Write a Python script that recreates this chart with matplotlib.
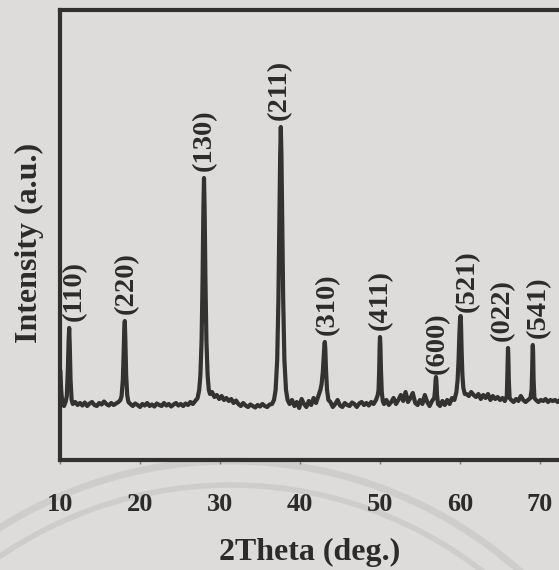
import matplotlib
matplotlib.use('Agg')
import matplotlib.pyplot as plt
from matplotlib.patches import Arc

# XRD trace (2theta in deg, intensity in a.u.)
two_theta = [
    # start + (110)
    10.05, 10.15, 10.3, 10.5, 10.7, 10.85, 10.98, 11.08, 11.15, 11.22, 11.32, 11.45, 11.6,
    11.9, 12.2, 12.5, 12.8, 13.1, 13.4, 13.7, 14.0, 14.3, 14.6, 14.9, 15.2, 15.5, 15.8,
    16.1, 16.4, 16.7, 17.0, 17.3, 17.55,
    # (220)
    17.7, 17.85, 17.95, 18.03, 18.1, 18.17, 18.27, 18.4, 18.55,
    18.8, 19.1, 19.4, 19.7, 20.0, 20.3, 20.6, 20.9, 21.2, 21.5, 21.8, 22.1, 22.4, 22.7,
    23.0, 23.3, 23.6, 23.9, 24.2, 24.5, 24.8, 25.1, 25.4, 25.7, 26.0, 26.3, 26.6, 26.9,
    27.2,
    # (130)
    27.4, 27.55, 27.7, 27.82, 27.92, 28.0, 28.08, 28.18, 28.3, 28.45, 28.6,
    28.75, 29.0, 29.3, 29.6, 29.9, 30.2, 30.5, 30.8, 31.1, 31.4, 31.7, 32.0, 32.3, 32.6,
    32.9, 33.2, 33.5, 33.8, 34.1, 34.4, 34.7, 35.0, 35.3, 35.6, 35.9, 36.2, 36.5, 36.75,
    # (211)
    36.95, 37.15, 37.3, 37.42, 37.52, 37.6, 37.68, 37.78, 37.9, 38.05, 38.25, 38.45,
    38.7, 39.0, 39.3, 39.6, 39.9, 40.2, 40.5, 40.8, 41.1, 41.4, 41.7, 42.0, 42.3, 42.55,
    # (310)
    42.7, 42.85, 42.97, 43.05, 43.1, 43.16, 43.25, 43.38, 43.55,
    43.8, 44.1, 44.4, 44.7, 45.0, 45.3, 45.6, 45.9, 46.2, 46.5, 46.8, 47.1, 47.4, 47.7,
    48.0, 48.3, 48.6, 48.9, 49.2, 49.5, 49.72,
    # (411)
    49.82, 49.9, 49.96, 50.0, 50.05, 50.12, 50.22, 50.35,
    50.5, 50.8, 51.1, 51.4, 51.7, 52.0, 52.3, 52.6, 52.9, 53.2, 53.5, 53.8, 54.1, 54.4,
    54.7, 55.0, 55.3, 55.6, 55.9, 56.2, 56.5, 56.78,
    # (600)
    56.88, 56.95, 57.0, 57.05, 57.13, 57.25,
    57.5, 57.8, 58.1, 58.4, 58.7, 59.0, 59.3, 59.55,
    # (521)
    59.7, 59.82, 59.92, 60.0, 60.07, 60.13, 60.2, 60.3, 60.42, 60.6,
    60.8, 61.1, 61.4, 61.7, 62.0, 62.3, 62.6, 62.9, 63.2, 63.5, 63.8, 64.1, 64.4, 64.7,
    65.0, 65.3, 65.6, 65.85,
    # (022)
    65.92, 65.97, 66.0, 66.04, 66.1, 66.2,
    66.4, 66.7, 67.0, 67.3, 67.6, 67.9, 68.2, 68.5, 68.8, 68.95,
    # (541)
    69.02, 69.07, 69.1, 69.14, 69.2, 69.3,
    69.5, 69.8, 70.1, 70.4, 70.7, 71.0, 71.3, 71.6, 71.9, 72.2, 72.5, 72.8, 73.1,
]
counts = [
    880, 700, 560, 540, 580, 640, 900, 1200, 1320, 1150, 800, 600, 560,
    580, 550, 570, 545, 575, 540, 565, 580, 550, 540, 570, 555, 585, 560,
    545, 570, 550, 565, 580, 600,
    640, 800, 1050, 1300, 1390, 1200, 850, 650, 580,
    560, 540, 565, 550, 530, 560, 545, 570, 540, 555, 535, 565, 550, 540,
    570, 545, 560, 535, 555, 570, 545, 560, 540, 565, 550, 580, 560, 590,
    620,
    700, 850, 1200, 1800, 2500, 2820, 2500, 1800, 1200, 850, 700,
    660, 680, 630, 650, 610, 640, 600, 620, 590, 610, 570, 595, 560, 540,
    570, 545, 530, 555, 540, 525, 550, 535, 560, 540, 530, 555, 560, 600,
    700, 1000, 1600, 2400, 3050, 3330, 3050, 2400, 1600, 1000, 700, 600,
    560, 600, 540, 580, 520, 610, 560, 530, 590, 550, 620, 570, 640, 700,
    760, 880, 1050, 1150, 1180, 1120, 900, 700, 600,
    580, 530, 560, 600, 545, 530, 570, 550, 540, 575, 560, 530, 565, 580,
    550, 570, 545, 580, 560, 600, 650,
    700, 900, 1150, 1230, 1150, 900, 680, 590,
    560, 600, 550, 580, 620, 560, 600, 650, 590, 680, 580, 620, 670, 570,
    550, 600, 560, 650, 580, 540, 590, 620,
    700, 800, 830, 790, 650, 560,
    540, 590, 550, 600, 560, 620, 600, 680,
    800, 1000, 1250, 1400, 1440, 1350, 1100, 850, 720, 660,
    660, 640, 680, 650, 630, 660, 610, 650, 620, 660, 600, 640, 610, 630,
    600, 620, 590, 640,
    850, 1050, 1120, 1050, 800, 620,
    600, 580, 610, 590, 640, 600, 580, 600, 620, 700,
    900, 1100, 1150, 1080, 800, 620,
    600, 580, 600, 590, 610, 580, 600, 590, 600, 580, 600, 590, 600,
]

hkl = ['(110)', '(220)', '(130)', '(211)', '(310)', '(411)', '(600)', '(521)', '(022)', '(541)']
peak_theta = [11.15, 18.1, 28.0, 37.6, 43.1, 50.0, 57.0, 60.1, 66.0, 69.1]
peak_counts = [1320, 1390, 2820, 3330, 1180, 1230, 830, 1440, 1120, 1150]

x_ticks = [10, 20, 30, 40, 50, 60, 70]

# label nudges in points (dx, dy) as seen in the scan
label_dx = [4, 1, 0, -1, 2, 0, 1, 5, -4, 4]
label_dy = [5, 5, 5, 5, 5, 5, 2, 3, 5, 5]

bg = '#dddcda'
ink = '#2b2b2b'
plt.rcParams['font.family'] = ['Liberation Serif', 'DejaVu Serif']
plt.rcParams['font.weight'] = 'bold'

W, H = 559, 570
fig = plt.figure(figsize=(W / 100, H / 100), dpi=100, facecolor=bg)

# faint watermark arcs behind the chart (pixel coordinates)
wm = fig.add_axes([0, 0, 1, 1], zorder=0)
wm.set_xlim(0, W)
wm.set_ylim(H, 0)
wm.axis('off')
for r, lw in [(434, 5), (410, 4)]:
    wm.add_patch(Arc((231, 895), 2 * r, 2 * r, theta1=180, theta2=360,
                     color='#cdcdcd', lw=lw))

ax = fig.add_axes([60 / W, 110 / H, 506 / W, 450 / H], zorder=1)
ax.set_facecolor('none')
ax.plot(two_theta, counts, color='#323232', lw=3, solid_joinstyle='round')

for lab, t, c, dx, dy in zip(hkl, peak_theta, peak_counts, label_dx, label_dy):
    ax.annotate(lab, (t, c), xytext=(dx, dy), textcoords='offset points',
                rotation=90, ha='center', va='bottom', fontsize=20.5,
                fontweight='bold', color=ink)

ax.set_xlim(10, 73.25)
ax.set_ylim(0, 4500)
ax.set_xticks(x_ticks)
ax.set_yticks([])
ax.tick_params(axis='x', direction='out', length=3, width=1, color='#777777',
               pad=21, labelsize=19, labelcolor=ink)
for s in ax.spines.values():
    s.set_linewidth(3)
    s.set_color('#303030')

ax.set_xlabel('2Theta (deg.)', fontsize=23, fontweight='bold', color=ink)
ax.xaxis.set_label_coords(0.494, -0.173)
ax.set_ylabel('Intensity (a.u.)', fontsize=23, fontweight='bold', color=ink)
ax.yaxis.set_label_coords(-0.032, 0.482)

plt.savefig('out.png', dpi=100, facecolor=bg)
